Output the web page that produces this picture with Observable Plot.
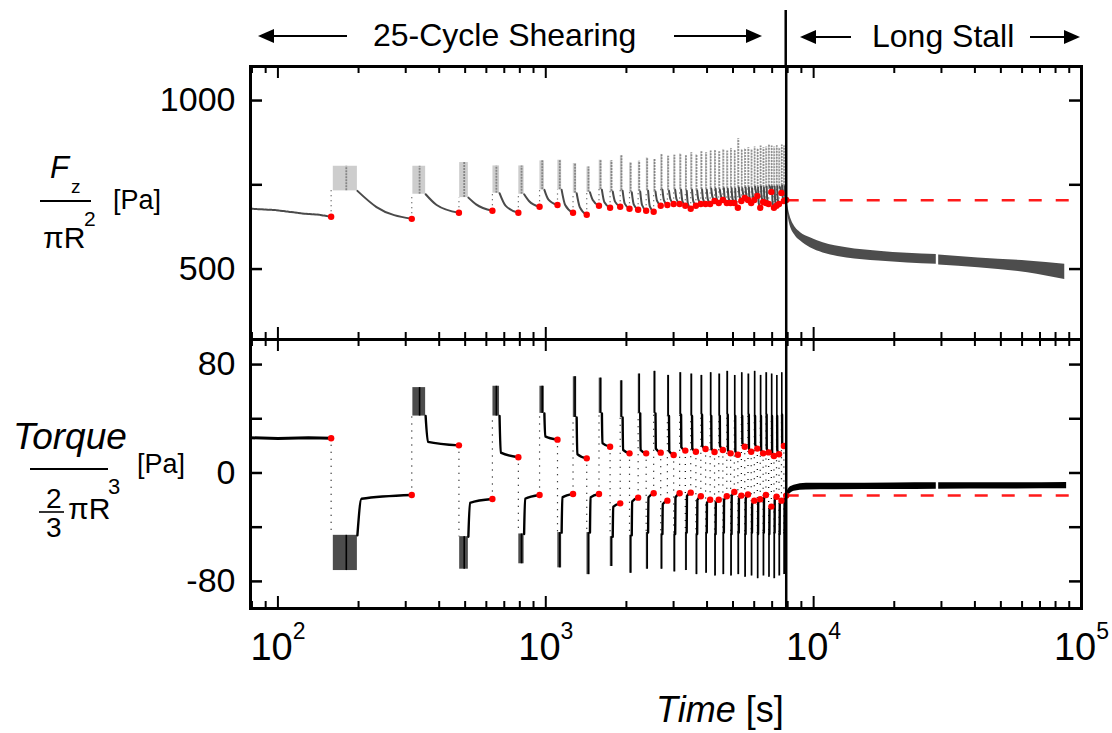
<!DOCTYPE html>
<html><head><meta charset="utf-8">
<script src="https://cdn.jsdelivr.net/npm/d3@7"></script>
<script src="https://cdn.jsdelivr.net/npm/@observablehq/plot@0.6"></script>
<style>
body{margin:0;background:#fff;}
#wrap{position:relative;width:1112px;height:733px;overflow:hidden;font-family:"Liberation Sans",Arial,sans-serif;}
#wrap svg{position:absolute;left:0;overflow:visible;}
</style></head><body><div id="wrap"></div>
<script>
// ================= DATA =================
const xMajorTicks = [100, 1000, 10000, 100000];
const xMinorTicks = [80, 90, 200, 300, 400, 500, 600, 700, 800, 900, 2000, 3000, 4000, 5000, 6000, 7000, 8000, 9000, 20000, 30000, 40000, 50000, 60000, 70000, 80000, 90000];
const fzTickValues = [500, 750, 1000];
const fzTickLabels = [500, 1000];
const tqTickValues = [-80, -40, 0, 40, 80];
const tqTickLabels = [-80, 0, 80];

// end time of each half-cycle (red dots), s
const endTimes = [158, 316, 474, 632, 790, 948, 1106, 1264, 1422, 1580, 1738, 1896, 2054, 2212, 2370, 2528, 2686, 2844, 3002, 3160, 3318, 3476, 3634, 3792, 3950, 4108, 4266, 4424, 4582, 4740, 4898, 5056, 5214, 5372, 5530, 5688, 5846, 6004, 6162, 6320, 6478, 6636, 6794, 6952, 7110, 7268, 7426, 7584, 7742, 7900];
const stallStart = 7900;
const cloudLag = 3;    // s after reversal where the transient cloud starts
const cloudDur = 40;   // s, duration of the transient cloud

// Normal stress Fz/piR^2 [Pa]
const fzPreT = [79, 98, 123, 143, 158];
const fzPreV = [679, 675, 665, 661, 655];
const fzEnd = [655, 649, 667, 673, 667, 685, 690, 667, 661, 688, 682, 685, 679, 676, 673, 670, 688, 690, 693, 693, 688, 679, 688, 693, 693, 693, 702, 696, 705, 696, 696, 696, 682, 702, 711, 705, 696, 705, 717, 682, 699, 696, 693, 729, 682, 688, 693, 726, 702, 705];
const fzHigh = [805, 805, 816, 806, 806, 821, 823, 813, 803, 823, 821, 836, 815, 820, 830, 825, 840, 835, 838, 842, 836, 845, 840, 848, 845, 850, 852, 848, 855, 850, 858, 852, 887, 855, 858, 860, 855, 862, 858, 865, 860, 862, 868, 865, 862, 866, 860, 868, 865];
const fzLow = [732, 722, 712, 725, 722, 735, 735, 725, 728, 735, 730, 732, 728, 730, 732, 730, 735, 732, 735, 735, 732, 735, 733, 736, 735, 738, 738, 736, 740, 738, 740, 738, 742, 740, 742, 742, 740, 744, 742, 745, 742, 744, 746, 745, 744, 746, 744, 748, 746];
const fzMid = [684, 690, 692, 688, 702, 706, 690, 684, 705, 698, 700, 694, 692, 690, 686, 702, 704, 707, 707, 702, 694, 702, 707, 707, 707, 716, 710, 719, 710, 710, 710, 696, 716, 725, 719, 710, 719, 731, 696, 713, 710, 707, 743, 696, 702, 707, 740, 716, 719];
const fzStallRef = 704;
const stallFzT  = [7900, 8100, 8550, 8940, 9720, 10850, 13300, 17500, 28700, 29300, 41200, 63000, 86600];
const stallFzHi = [712, 668, 623, 608, 593, 578, 563, 553, 543, 542, 533, 524, 514];
const stallFzLo = [695, 640, 598, 583, 563, 548, 533, 524, 514, 512, 504, 489, 469];
const stallGapT = 29000;

// Torque/(2/3 piR^3) [Pa]
const tqPreT = [79, 100, 130, 158];
const tqPreV = [26, 25.5, 26, 25.6];
const tqEnd = [25.6, -16.2, 20.4, -19.2, 11.6, -16.2, 24.6, -15.5, 10.8, -15.5, 19.4, -22.4, 14.5, -18.2, 14.5, -15, 15, -20.4, 13.3, -15, 16.5, -14.5, 15.7, -17.2, 17.7, -19.7, 15.5, -19.7, 17, -17.2, 14.5, -14, 13.5, -16.7, 19.4, -15.9, 15.7, -20.4, 18, -19.4, 14.5, -16.2, 15.2, -24.8, 12.5, -17.5, 13.8, -20.4, 19.9, -16.7];
const tqExt = [-72, 63, -71, 64, -67, 64, -70, 71, -75, 70, -69, 68, -74, 73, -71, 75, -71, 72, -73, 74, -72, 73, -75, 72, -74, 74, -76, 73, -75, 75, -76, 72, -75, 74, -77, 73, -76, 75, -78, 72, -76, 74, -77, 73, -78, 72, -76, 74, -75];
const tqInner = [-46, 42, -47, 42, -45, 44, -44, 41, -44, 44, -47, 41, -46, 44, -44, 44, -45, 42, -45, 43, -44, 42, -45, 43, -44, 42, -45, 42, -44, 43, -45, 42, -44, 42, -45, 43, -44, 42, -45, 42, -44, 43, -45, 42, -44, 42, -45, 43, -44];
const tqMid = [-19, 23, -22, 15, -19, 27, -18, 14, -18, 22, -25, 17, -21, 17, -18, 18, -23, 16, -18, 19, -17, 18, -20, 20, -22, 18, -22, 20, -20, 17, -17, 16, -19, 22, -19, 18, -23, 21, -22, 17, -19, 18, -27, 15, -20, 17, -23, 22, -19];
const tqStallRef = -16.7;
const stallTqT  = [7900, 8100, 8450, 9400, 12000, 20000, 28700, 29300, 50000, 88000];
const stallTqHi = [-15, -11, -9, -7.5, -7.5, -7.3, -7.2, -7.2, -7.2, -7.0];
const stallTqLo = [-18.5, -16, -13.5, -12.5, -12.3, -12.2, -12, -12, -11.8, -11.7];

// ================= derived tables =================
const W = 1112, ML = 250, MR = 31;
const plotW = W - ML - MR;
const xDomain = [79, 100000];
const topH = 273, botH = 269;

function cycles(endV, a, b, c) {
  return d3.range(1, endTimes.length).map(k => ({
    t0: endTimes[k-1], t1: endTimes[k], prev: endV[k-1], a: a[k-1], b: b[k-1], mid: c[k-1], end: endV[k]
  }));
}
const fzCycles = cycles(fzEnd, fzHigh, fzLow, fzMid);
const tqCycles = cycles(tqEnd, tqExt, tqInner, tqMid);
function decay(cs, frac) {
  return cs.flatMap((c, i) => {
    const ta = c.t0 + cloudDur;
    return [{k: i, t: ta, v: c.b}, {k: i, t: ta + frac * (c.t1 - ta), v: c.mid}, {k: i, t: c.t1, v: c.end}];
  });
}
const fzDecay = decay(fzCycles, 0.3);
const tqDecay = decay(tqCycles, 0.06);
const fzPre = fzPreT.map((t, i) => ({t, v: fzPreV[i]}));
const tqPre = tqPreT.map((t, i) => ({t, v: tqPreV[i]}));
const fzRed = endTimes.map((t, i) => ({t, v: fzEnd[i]}));
const tqRed = endTimes.map((t, i) => ({t, v: tqEnd[i]}));
const stallFz = stallFzT.map((t, i) => ({t, hi: stallFzHi[i], lo: stallFzLo[i], seg: t < stallGapT ? 0 : 1}));
const stallTq = stallTqT.map((t, i) => ({t, hi: stallTqHi[i], lo: stallTqLo[i], seg: t < stallGapT ? 0 : 1}));

function tickMarks(h, yTicks) {
  return [
    Plot.tickX(xMajorTicks, {x: d => d, insetTop: h - 12, stroke: "#000", strokeWidth: 2}),
    Plot.tickX(xMajorTicks, {x: d => d, insetBottom: h - 12, stroke: "#000", strokeWidth: 2}),
    Plot.tickX(xMinorTicks, {x: d => d, insetTop: h - 7, stroke: "#000", strokeWidth: 2}),
    Plot.tickX(xMinorTicks, {x: d => d, insetBottom: h - 7, stroke: "#000", strokeWidth: 2}),
    Plot.tickY(yTicks, {y: d => d, insetRight: plotW - 12, stroke: "#000", strokeWidth: 2.5}),
    Plot.tickY(yTicks, {y: d => d, insetLeft: plotW - 12, stroke: "#000", strokeWidth: 2.5})
  ];
}
const FONT = "'Liberation Sans', Arial, sans-serif";
const baseStyle = {background: "transparent", overflow: "visible", fontFamily: FONT, color: "#000"};
const gray = "#4a4a4a";

// ================= top panel =================
const topPlot = Plot.plot({
  width: W, height: 340, marginLeft: ML, marginRight: MR, marginTop: 66, marginBottom: 1,
  x: {type: "log", domain: xDomain, axis: null},
  y: {domain: [291, 1101], label: null},
  style: baseStyle,
  marks: [
    Plot.ruleX(fzCycles, {x: "t0", y1: "prev", y2: "b", stroke: gray, strokeWidth: 1.2, strokeDasharray: "1,4"}),
    Plot.rect(fzCycles, {x1: d => d.t0 + cloudLag, x2: d => d.t0 + cloudDur, y1: "b", y2: "a", fill: gray, fillOpacity: 0.28}),
    Plot.ruleX(fzCycles, {x: d => d.t0 + cloudDur * 0.55, y1: "b", y2: "a", stroke: gray, strokeWidth: 1.8, strokeOpacity: 0.55, strokeDasharray: "2,1"}),
    Plot.line(fzPre, {x: "t", y: "v", stroke: gray, strokeWidth: 2, strokeDasharray: "2.5,1.2"}),
    Plot.line(fzDecay, {x: "t", y: "v", z: "k", stroke: gray, strokeWidth: 2, curve: "monotone-x"}),
    Plot.areaY(stallFz, {x: "t", y1: "lo", y2: "hi", z: "seg", fill: "#4d4d4d", curve: "monotone-x"}),
    Plot.ruleY([fzStallRef], {x1: stallStart, x2: 100000, stroke: "#ff1a1a", strokeWidth: 2.5, strokeDasharray: "13,14"}),
    Plot.dot(fzRed, {x: "t", y: "v", r: 3.2, fill: "#ff0000"}),
    Plot.ruleX([stallStart], {stroke: "#000", strokeWidth: 2.5}),
    ...tickMarks(topH, fzTickValues),
    Plot.axisY(fzTickLabels, {tickSize: 0, tickPadding: 15, fontSize: 34, label: null, tickFormat: d => String(d)}),
    Plot.frame({stroke: "#000", strokeWidth: 3})
  ]
});

// ================= bottom panel =================
const botPlot = Plot.plot({
  width: W, height: 394, marginLeft: ML, marginRight: MR, marginTop: 0, marginBottom: 125,
  x: {type: "log", domain: xDomain, label: null},
  y: {domain: [-100, 98.5], label: null},
  style: baseStyle,
  marks: [
    Plot.ruleX(tqCycles, {x: "t0", y1: "prev", y2: "b", stroke: "#000", strokeWidth: 1.2, strokeDasharray: "1,6"}),
    Plot.rect(tqCycles, {x1: d => d.t0 + cloudLag, x2: d => d.t0 + cloudDur, y1: "b", y2: "a", fill: "#000", fillOpacity: 0.7}),
    Plot.ruleX(tqCycles, {x: d => d.t0 + cloudDur * 0.55, y1: "b", y2: "a", stroke: "#000", strokeWidth: 1.6}),
    Plot.line(tqPre, {x: "t", y: "v", stroke: "#000", strokeWidth: 3}),
    Plot.line(tqDecay, {x: "t", y: "v", z: "k", stroke: "#000", strokeWidth: 2.4, curve: "monotone-x"}),
    Plot.areaY(stallTq, {x: "t", y1: "lo", y2: "hi", z: "seg", fill: "#000", curve: "monotone-x"}),
    Plot.ruleY([tqStallRef], {x1: stallStart, x2: 100000, stroke: "#ff1a1a", strokeWidth: 2.5, strokeDasharray: "13,14"}),
    Plot.dot(tqRed, {x: "t", y: "v", r: 3.2, fill: "#ff0000"}),
    Plot.ruleX([stallStart], {stroke: "#000", strokeWidth: 2.5}),
    ...tickMarks(botH, tqTickValues),
    Plot.axisY(tqTickLabels, {tickSize: 0, tickPadding: 15, fontSize: 34, label: null, tickFormat: d => String(d)}),
    Plot.axisX(xMajorTicks, {tickSize: 0, tickPadding: 25, fontSize: 38, label: null, tickFormat: d => "10^" + Math.round(Math.log10(d))}),
    Plot.frame({stroke: "#000", strokeWidth: 3})
  ]
});

const wrap = document.getElementById("wrap");
topPlot.style.top = "0px";
botPlot.style.top = "339px";
wrap.appendChild(topPlot);
wrap.appendChild(botPlot);

// superscript exponents on the x tick labels
d3.select(botPlot).selectAll("text").each(function() {
  const m = /^10\^(\d)$/.exec(this.textContent);
  if (m) {
    const s = d3.select(this);
    s.text("10");
    s.append("tspan").attr("dy", -21).attr("font-size", 23).text(m[1]);
  }
});

// ================= overlay text: header, axis titles =================
const xs = topPlot.scale("x");
const divX = xs.apply(stallStart);
const ov = d3.select(wrap).append("svg").attr("width", W).attr("height", 733).style("top", "0px")
  .attr("font-family", FONT).attr("fill", "#000");

ov.append("line").attr("x1", divX).attr("x2", divX).attr("y1", 10).attr("y2", 67).attr("stroke", "#000").attr("stroke-width", 2.5);
function arrow(xTail, xHead, y) {
  const dir = xHead > xTail ? 1 : -1;
  ov.append("line").attr("x1", xTail).attr("x2", xHead - dir * 12).attr("y1", y).attr("y2", y).attr("stroke", "#000").attr("stroke-width", 2.2);
  ov.append("path").attr("d", `M${xHead},${y}L${xHead - dir * 16},${y - 7}L${xHead - dir * 16},${y + 7}Z`).attr("fill", "#000");
}
arrow(347, 258, 36);
arrow(674, 762, 36);
arrow(851, 800, 37);
arrow(1030, 1080, 37);
ov.append("text").attr("x", 373).attr("y", 46).attr("font-size", 32).text("25-Cycle Shearing");
ov.append("text").attr("x", 872).attr("y", 47).attr("font-size", 32).text("Long Stall");

// Fz / piR^2 [Pa]
ov.append("text").attr("x", 50).attr("y", 178).attr("font-size", 31).attr("font-style", "italic").text("F");
ov.append("text").attr("x", 71).attr("y", 193).attr("font-size", 19).text("z");
ov.append("line").attr("x1", 40).attr("x2", 91).attr("y1", 201).attr("y2", 201).attr("stroke", "#000").attr("stroke-width", 2);
ov.append("text").attr("x", 43).attr("y", 248).attr("font-size", 30).text("\u03C0R");
ov.append("text").attr("x", 84).attr("y", 226).attr("font-size", 21).text("2");
ov.append("text").attr("x", 113).attr("y", 209).attr("font-size", 27).text("[Pa]");

// Torque / (2/3 piR^3) [Pa]
ov.append("text").attr("x", 13).attr("y", 449).attr("font-size", 37).attr("font-style", "italic").text("Torque");
ov.append("line").attr("x1", 30).attr("x2", 108).attr("y1", 469).attr("y2", 469).attr("stroke", "#000").attr("stroke-width", 2);
ov.append("text").attr("x", 46).attr("y", 508).attr("font-size", 28).text("2");
ov.append("line").attr("x1", 39).attr("x2", 64).attr("y1", 512).attr("y2", 512).attr("stroke", "#000").attr("stroke-width", 1.6);
ov.append("text").attr("x", 46).attr("y", 537).attr("font-size", 28).text("3");
ov.append("text").attr("x", 68).attr("y", 519).attr("font-size", 30).text("\u03C0R");
ov.append("text").attr("x", 108).attr("y", 494).attr("font-size", 22).text("3");
ov.append("text").attr("x", 137).attr("y", 473).attr("font-size", 27).text("[Pa]");

// Time [s]
const tl = ov.append("text").attr("x", 656).attr("y", 722).attr("font-size", 36);
tl.append("tspan").attr("font-style", "italic").text("Time");
tl.append("tspan").text(" [s]");
</script></body></html>
